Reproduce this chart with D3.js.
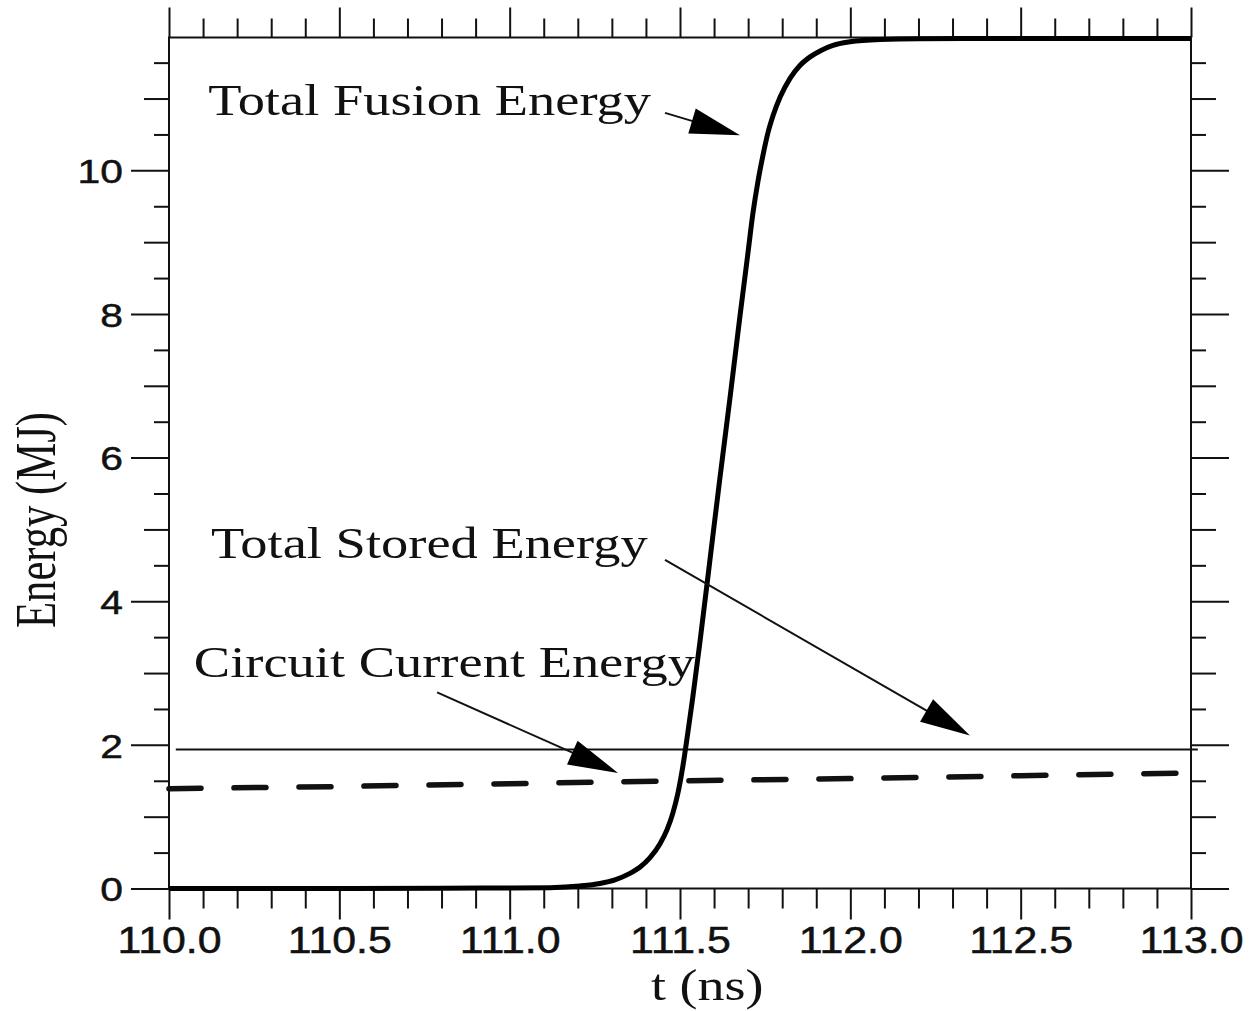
<!DOCTYPE html>
<html>
<head>
<meta charset="utf-8">
<script src="https://cdn.jsdelivr.net/npm/d3@7/dist/d3.min.js"></script>
<style>
  html, body { margin: 0; padding: 0; background: #fff; }
  svg { display: block; }
</style>
</head>
<body>
<svg id="chart" width="1252" height="1011"></svg>
<script>
// Total fusion energy (MJ) vs time (ns)
const fusionTime = [110.0, 110.5, 110.8, 111.0, 111.118, 111.206, 111.265, 111.309, 111.353, 111.383,
  111.412, 111.441, 111.462, 111.479, 111.494, 111.509, 111.523, 111.538, 111.559, 111.588,
  111.617, 111.647, 111.676, 111.691, 111.700, 111.714, 111.729, 111.744, 111.758, 111.773,
  111.794, 111.823, 111.852, 111.882, 111.914, 111.949, 111.999, 112.087, 112.204, 112.439, 113.0];
const fusionEnergy = [0.0, 0.001, 0.004, 0.007, 0.012, 0.035, 0.07, 0.12, 0.21, 0.30,
  0.43, 0.62, 0.82, 1.05, 1.33, 1.72, 2.17, 2.68, 3.45, 4.58,
  5.71, 6.84, 7.97, 8.53, 8.87, 9.40, 9.85, 10.22, 10.52, 10.76,
  11.02, 11.28, 11.46, 11.58, 11.67, 11.74, 11.79, 11.823, 11.833, 11.835, 11.835];

// Total stored energy (MJ)
const storedTime = [110.02, 113.02];
const storedEnergy = [1.936, 1.936];

// Circuit current energy (MJ)
const circuitTime = [110.0, 110.5, 111.0, 111.5, 112.0, 112.5, 113.0];
const circuitEnergy = [1.39, 1.42, 1.46, 1.50, 1.53, 1.57, 1.61];

// Axis ticks
const xMajorTicks = [110.0, 110.5, 111.0, 111.5, 112.0, 112.5, 113.0];
const xTickLabels = ["110.0", "110.5", "111.0", "111.5", "112.0", "112.5", "113.0"];
const yMajorTicks = [0, 2, 4, 6, 8, 10];
const yTickLabels = ["0", "2", "4", "6", "8", "10"];

const xTitle = "t (ns)";
const yTitle = "Energy (MJ)";

// Annotation labels with arrows (anchor and arrow ends in data units)
const annotationText = ["Total Fusion Energy", "Total Stored Energy", "Circuit Current Energy"];
const annotationAt = [[110.115, 10.77], [110.123, 4.60], [110.073, 2.945]];
const arrowFrom = [[111.456, 10.80], [111.456, 4.575], [110.787, 2.73]];
const arrowTo = [[111.676, 10.49], [112.351, 2.13], [111.318, 1.61]];

// ---------------------------------------------------------------
const svg = d3.select("#chart");
const plotLeft = 169, plotRight = 1191, plotTop = 37.5, plotBottom = 888.5;

const x = d3.scaleLinear().domain([110, 113]).range([plotLeft, plotRight]);
const y = d3.scaleLinear().domain([0, 11.85]).range([plotBottom, plotTop]);

const ink = "#111";
const sans = "'Liberation Sans', Arial, sans-serif";
const serif = "'Liberation Serif', 'Times New Roman', serif";

// stretch text horizontally by a factor using textLength
function stretch(sel, k) {
  sel.each(function () {
    const w = this.getComputedTextLength();
    d3.select(this).attr("textLength", w * k).attr("lengthAdjust", "spacingAndGlyphs");
  });
}

const xMinor = d3.range(0, 31).map(i => 110 + i * 0.1).filter(v => !xMajorTicks.some(m => Math.abs(m - v) < 1e-6));
const yHalf = d3.range(0, 24).map(i => i * 0.5).filter(v => v <= 11.85 && Math.abs(v % 1) > 0.1);
const yOdd = d3.range(1, 12, 2);

function styleAxis(g) {
  g.select(".domain").remove();
  g.selectAll(".tick line").attr("stroke", ink).attr("stroke-width", 2);
}

// bottom axis
svg.append("g").attr("transform", `translate(0,${plotBottom})`)
  .call(d3.axisBottom(x).tickValues(xMinor).tickSize(20).tickFormat(""))
  .call(styleAxis);
const xb = svg.append("g").attr("transform", `translate(0,${plotBottom})`)
  .call(d3.axisBottom(x).tickValues(xMajorTicks).tickSize(31).tickPadding(8)
    .tickFormat((d, i) => xTickLabels[i]))
  .call(styleAxis);
xb.selectAll(".tick text").attr("font-family", sans).attr("font-size", 36).attr("fill", ink)
  .attr("stroke", ink).attr("stroke-width", 0.5)
  .attr("dy", "0.71em").call(stretch, 1.19);

// top axis
svg.append("g").attr("transform", `translate(0,${plotTop})`)
  .call(d3.axisTop(x).tickValues(xMinor).tickSize(19).tickFormat(""))
  .call(styleAxis);
svg.append("g").attr("transform", `translate(0,${plotTop})`)
  .call(d3.axisTop(x).tickValues(xMajorTicks).tickSize(30).tickFormat(""))
  .call(styleAxis);

// left axis
svg.append("g").attr("transform", `translate(${plotLeft},0)`)
  .call(d3.axisLeft(y).tickValues(yHalf).tickSize(15).tickFormat(""))
  .call(styleAxis);
svg.append("g").attr("transform", `translate(${plotLeft},0)`)
  .call(d3.axisLeft(y).tickValues(yOdd).tickSize(25).tickFormat(""))
  .call(styleAxis);
const yl = svg.append("g").attr("transform", `translate(${plotLeft},0)`)
  .call(d3.axisLeft(y).tickValues(yMajorTicks).tickSize(38).tickPadding(8)
    .tickFormat((d, i) => yTickLabels[i]))
  .call(styleAxis);
yl.selectAll(".tick text").attr("font-family", sans).attr("font-size", 34).attr("fill", ink)
  .attr("stroke", ink).attr("stroke-width", 0.5)
  .attr("dy", "0.36em").call(stretch, 1.2);

// right axis
svg.append("g").attr("transform", `translate(${plotRight},0)`)
  .call(d3.axisRight(y).tickValues(yHalf).tickSize(15).tickFormat(""))
  .call(styleAxis);
svg.append("g").attr("transform", `translate(${plotRight},0)`)
  .call(d3.axisRight(y).tickValues(yOdd).tickSize(25).tickFormat(""))
  .call(styleAxis);
svg.append("g").attr("transform", `translate(${plotRight},0)`)
  .call(d3.axisRight(y).tickValues(yMajorTicks).tickSize(38).tickFormat(""))
  .call(styleAxis);

// frame
svg.append("rect").attr("x", plotLeft).attr("y", plotTop)
  .attr("width", plotRight - plotLeft).attr("height", plotBottom - plotTop)
  .attr("fill", "none").attr("stroke", ink).attr("stroke-width", 2);

// axis titles
svg.append("text").attr("x", x(111.58)).attr("y", 1000)
  .attr("text-anchor", "middle").attr("font-family", serif).attr("font-size", 45).attr("fill", ink)
  .text(xTitle).call(stretch, 1.2);

svg.append("text")
  .attr("transform", `translate(55,${(plotTop + plotBottom) / 2 + 57}) rotate(-90) scale(1,1.25)`)
  .attr("text-anchor", "middle").attr("font-family", serif).attr("font-size", 45).attr("fill", ink)
  .text(yTitle).attr("textLength", 216).attr("lengthAdjust", "spacingAndGlyphs");

// series
const line = d3.line().x(d => x(d[0])).y(d => y(d[1]));

svg.append("path")
  .datum(storedTime.map((t, i) => [t, storedEnergy[i]]))
  .attr("d", line).attr("fill", "none").attr("stroke", ink).attr("stroke-width", 2);

svg.append("path")
  .datum(circuitTime.map((t, i) => [t, circuitEnergy[i]]))
  .attr("d", line).attr("fill", "none").attr("stroke", ink).attr("stroke-width", 5.5)
  .attr("stroke-linecap", "round").attr("stroke-dasharray", "32,33");

svg.append("path")
  .datum(fusionTime.map((t, i) => [t, fusionEnergy[i]]))
  .attr("d", line.curve(d3.curveMonotoneX)).attr("fill", "none").attr("stroke", "#000")
  .attr("stroke-width", 5).attr("stroke-linejoin", "round");

// annotations
annotationText.forEach((txt, i) => {
  svg.append("text")
    .attr("x", x(annotationAt[i][0])).attr("y", y(annotationAt[i][1]))
    .attr("font-family", serif).attr("font-size", 45).attr("fill", ink)
    .text(txt).call(stretch, 1.21);

  const x1 = x(arrowFrom[i][0]), y1 = y(arrowFrom[i][1]);
  const x2 = x(arrowTo[i][0]), y2 = y(arrowTo[i][1]);
  const len = Math.hypot(x2 - x1, y2 - y1);
  const ux = (x2 - x1) / len, uy = (y2 - y1) / len;
  const headL = 50, headW = 13;
  const bx = x2 - ux * headL, by = y2 - uy * headL;
  svg.append("line").attr("x1", x1).attr("y1", y1).attr("x2", bx + ux * 5).attr("y2", by + uy * 5)
    .attr("stroke", ink).attr("stroke-width", 2);
  svg.append("polygon")
    .attr("points", [[x2, y2], [bx - uy * headW, by + ux * headW], [bx + uy * headW, by - ux * headW]]
      .map(p => p.join(",")).join(" "))
    .attr("fill", "#000");
});
</script>
</body>
</html>
